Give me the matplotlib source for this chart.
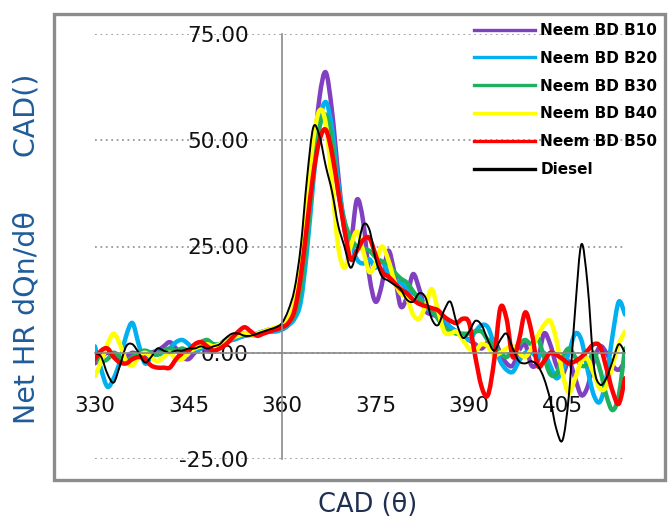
import matplotlib
matplotlib.use('Agg')

import matplotlib.pyplot as plt
import numpy as np
from matplotlib.path import Path
from matplotlib.patches import PathPatch, Rectangle
from matplotlib.lines import Line2D

# crank angle, one reading per degree
cad = np.arange(330, 416)

b10 = [-2.5, -1, 0, -1, -2, -1, 0, -0.5, -1, 0,
       0.5, 1.5, 2.5, 1, -1, -1.5, 0, 1, 0.5, 0.5,
       1.5, 2.5, 3, 3.5, 4, 4, 4.5, 5, 5, 5.5,
       5.5, 6.5, 8.5, 14, 28, 45, 60, 66, 57, 42,
       29, 26, 36, 31, 18, 12, 16, 24, 19, 11,
       13, 18.5, 15, 10, 9, 8.5, 7, 6, 5, 4,
       3, 2, 1, 2.5, 3, 0, -2.5, -3, 0.5, 2,
       -3, -2, 4.5, 2, -3, -5, -2, -6, -10, -8,
       -2, 1.5, 0, -3, -4, -2]

b20 = [1.5, -4, -8, -6, -2, 4, 7, 2, -2.5, -1,
       0, -0.5, 1, 2.5, 3, 2, 0.5, 1, 2.5, 2,
       2, 3, 3, 3.5, 4, 4, 4.5, 5, 5, 5,
       5.5, 6.5, 8, 12, 24, 40, 54, 59, 53, 40,
       31, 26, 22, 21, 22, 20, 21.5, 19, 17, 16.5,
       15, 14, 13, 11, 9.5, 9, 8, 6, 5, 4,
       3, 5, 6.5, 6, 2, -2, -4, -4.5, -2, 0,
       0, -1, 0, -3, -6, -4, 0, 4.5, 3, -4,
       -10, -11.5, -6, 4, 12, 9]

b30 = [-1, -2, -1.5, 0, -1, -2, -1, 0, 0.5, 0,
       -0.5, 0.5, 1, 0.5, 1, 0.5, 1.5, 2.5, 3, 2,
       2, 3, 3.5, 4, 4.5, 4, 4.5, 5, 5.5, 5.5,
       6, 7, 9, 15, 27, 42, 53, 56, 50, 38,
       31, 27, 25, 24.5, 24, 22.5, 21.5, 21, 19, 17.5,
       16.5, 14.5, 12.5, 11, 10, 8, 6, 5, 4.5, 4.5,
       4.5, 5, 5, 3, 1.5, 0, -1, 0.5, 2, 3,
       2, 3.5, -1, -5, -5, -1, 1, -1, -3, -2.7,
       0, -4, -10, -13.5, -10, 1]

b40 = [-5.5, -2, 2, 4.5, 2, -2, -3, -1, 0, -1,
       -2, -1, 0, -1.5, -1.5, 0, 1, 1.5, 2, 1.5,
       2, 2.5, 3.5, 4, 4.5, 4, 4.5, 5, 5.5, 6,
       6.5, 8, 12, 22, 36, 50, 57, 54, 40, 25,
       20, 25, 28.5, 24, 19, 21, 25, 22, 17, 14,
       13, 9, 8, 11, 15, 10, 5, 4.5, 5, 3,
       1, 0.5, 2, 1.5, -0.5, 0, 1, 1.5, 0, -1,
       1, 4, 6.5, 7.5, 3, -5, -9.5, -6, -2, -1.5,
       -5, -8.5, -8, -3, 2, 5]

b50 = [-1.5, 0.5, 1, -1, -2.3, -2.5, -1.5, -1, -1.5, -3,
       -3.5, -3.5, -3.5, -1.5, 0, 0.5, 2, 2.5, 1.5, 0.5,
       1, 2, 3.5, 5, 6, 5, 4, 4.5, 5, 5.5,
       6, 7, 10, 18, 30, 42, 50, 52.5, 47, 38,
       29, 22, 24, 26.5, 27, 23, 19, 18, 16.5, 15,
       14, 12.5, 11.5, 11, 10.5, 10, 8.5, 7.5, 7, 8,
       7, -1, -8, -10, -2, 10.5, 8, -1, 3, 9.5,
       5, -3, -2, 0, -0.5, -1.5, -2.5, -2, -1, 0.5,
       2, 1.5, -3.5, -9, -12, -6]

diesel = [0, -1, -5, -7, -3, 1.5, 2, 0, -2.3, -1,
          1, 0.5, 0, 0.5, 0.5, 1, 1, 1.5, 1, 1.5,
          2, 3.5, 4.5, 4.5, 4, 4, 4.5, 5, 5.5, 6,
          7, 10, 15, 25, 41, 53, 51, 44, 38, 30,
          25, 20, 24, 30, 29, 22, 18, 17, 16, 15,
          12.5, 12, 14, 13, 8, 6.5, 10, 12, 7, 3.5,
          5, 7.5, 6.5, 3, 0.5, 3, 4.5, 1, -2, -2.5,
          -2, -3, -6, -11, -18, -20.5, -10, 10, 25.5, 16,
          -3, -7.5, -6, -2, 2, 0]

labels = ['Neem BD B10', 'Neem BD B20', 'Neem BD B30',
          'Neem BD B40', 'Neem BD B50', 'Diesel']
series = [b10, b20, b30, b40, b50, diesel]
colors = ['#8040C0', '#00B0F0', '#20B060', '#FFFF00', '#FF0000', '#000000']
widths = [3.2, 3.2, 3.2, 3.2, 3.2, 1.4]


def smooth_path(x, y):
    # Catmull-Rom through the readings, as cubic Bezier segments
    pts = np.column_stack([np.asarray(x, float), np.asarray(y, float)])
    ext = np.vstack([pts[0], pts, pts[-1]])
    verts = [pts[0]]
    codes = [Path.MOVETO]
    for i in range(len(pts) - 1):
        p0, p1, p2, p3 = ext[i], ext[i + 1], ext[i + 2], ext[i + 3]
        verts += [p1 + (p2 - p0) / 6, p2 - (p3 - p1) / 6, p2]
        codes += [Path.CURVE4] * 3
    return Path(verts, codes)


W, H = 671, 520
fig = plt.figure(figsize=(W / 100, H / 100), dpi=100)
ax = fig.add_axes([95 / W, 1 - 459 / H, 530 / W, 425 / H])

for vals, c, lw in zip(series, colors, widths):
    patch = PathPatch(smooth_path(cad, vals), fill=False, edgecolor=c, lw=lw,
                      capstyle='round', joinstyle='round', zorder=2)
    ax.add_patch(patch)

ax.set_xlim(330, 415)
ax.set_ylim(-25, 75)

# axes cross at (360, 0)
for s in ['top', 'right']:
    ax.spines[s].set_visible(False)
ax.spines['left'].set_position(('data', 360))
ax.spines['bottom'].set_position(('data', 0))
for s in ['left', 'bottom']:
    ax.spines[s].set_color('#8a8a8a')
    ax.spines[s].set_linewidth(1.2)

ax.set_xticks([330, 345, 360, 375, 390, 405])
ax.set_yticks([-25, 0, 25, 50, 75])
ax.set_yticklabels(['%.2f' % v for v in [-25, 0, 25, 50, 75]])
ax.tick_params(axis='y', length=0, pad=24, labelsize=15.5, labelcolor='#111111')
ax.tick_params(axis='x', length=0, pad=31, labelsize=15.5, labelcolor='#111111')
ax.set_axisbelow(True)
ax.grid(axis='y', color='#999999', linestyle=(0, (1, 2)), linewidth=1.3)
ax.patch.set_visible(False)

fig.text(27 / W, 1 - 249 / H, 'Net HR dQn/d\u03b8      CAD()', rotation=90,
         ha='center', va='center', fontsize=20.5, color='#1F5C99')
fig.text(368 / W, 1 - 505 / H, 'CAD (\u03b8)', ha='center', va='center',
         fontsize=18.5, color='#1F2F50')

handles = [Line2D([], [], color=c, lw=2.4) for c in colors]
fig.legend(handles, labels, loc='upper left',
           bbox_to_anchor=(474 / W, 1 - 23 / H), frameon=False,
           borderpad=0, borderaxespad=0, handlelength=4.0,
           handletextpad=0.33, labelspacing=0.84,
           prop={'size': 11, 'weight': 'bold'})

# grey border round the whole chart
fig.patches.append(Rectangle((53.5 / W, 1 - 480 / H), 611.5 / W, 466.5 / H,
                             transform=fig.transFigure, fill=False,
                             edgecolor='#8c8c8c', linewidth=2.4))

plt.savefig('out.png', dpi=100)
